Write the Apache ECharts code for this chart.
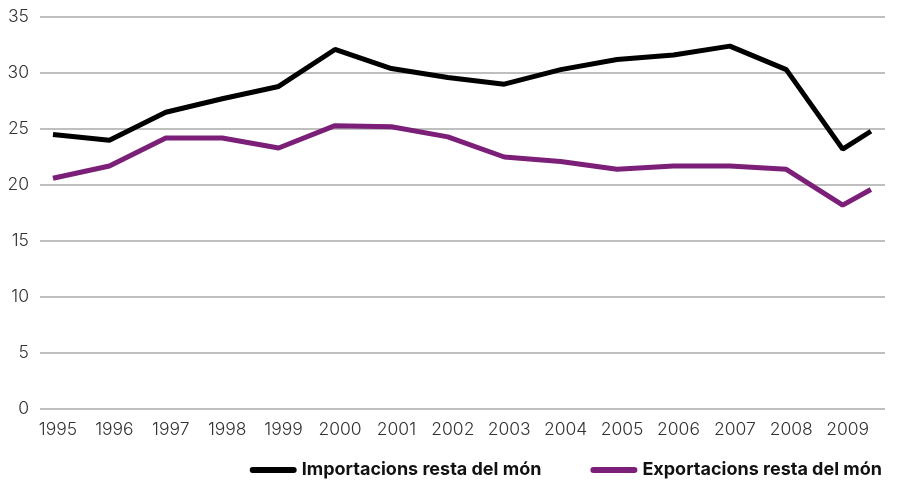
<!DOCTYPE html>
<html>
<head>
<meta charset="utf-8">
<script src="https://cdn.jsdelivr.net/npm/echarts@6/dist/echarts.min.js"></script>
<style>html,body{margin:0;padding:0;background:#fff}#c{width:900px;height:481px}</style>
</head>
<body>
<div id="c"></div>
<script>
const years = [1995,1996,1997,1998,1999,2000,2001,2002,2003,2004,2005,2006,2007,2008,2009,2009.5];
const yearLabels = [1995,1996,1997,1998,1999,2000,2001,2002,2003,2004,2005,2006,2007,2008,2009];
const importacions = [24.5,24.0,26.5,27.7,28.8,32.1,30.4,29.6,29.0,30.3,31.2,31.6,32.4,30.3,23.2,24.8];
const exportacions = [20.6,21.7,24.2,24.2,23.3,25.3,25.2,24.3,22.5,22.1,21.4,21.7,21.7,21.4,18.2,19.6];
const seriesNames = ['Importacions resta del món','Exportacions resta del món'];
const yTicks = [0,5,10,15,20,25,30,35];

const pair = (xs, ys) => xs.map((x,i)=>[x, ys[i]]);
const capsule = 'path://M3,0 L44,0 A3,3 0 0 1 44,6 L3,6 A3,3 0 0 1 3,0 Z';

const chart = echarts.init(document.getElementById('c'), null, {renderer:'canvas'});
chart.setOption({
  animation:false,
  backgroundColor:'#fff',
  grid:{left:40, right:15, top:17, bottom:72},
  xAxis:{
    type:'value', min:1994.77, max:2009.75,
    axisLine:{show:false}, axisTick:{show:false}, splitLine:{show:false},
    axisLabel:{
      customValues: yearLabels,
      formatter: v => String(Math.round(v)),
      color:'#333', fontSize:17.5, fontFamily:'Inter', fontWeight:300, margin:12,
      padding:[0,0,0,10]
    }
  },
  yAxis:{
    type:'value', min:0, max:35, interval:5,
    axisLine:{show:false}, axisTick:{show:false},
    axisLabel:{color:'#333', fontSize:17.5, fontFamily:'Inter', fontWeight:300, margin:11},
    splitLine:{lineStyle:{color:'#aaaaaa', width:1.5}}
  },
  legend:{
    right:13, top:456, itemWidth:47, itemHeight:6, itemGap:49,
    textStyle:{fontSize:18, fontWeight:'bold', color:'#111', fontFamily:'Inter'},
    data:[{name:seriesNames[0], icon:capsule},{name:seriesNames[1], icon:capsule}]
  },
  series:[
    {name:seriesNames[0], type:'line', data:pair(years, importacions), showSymbol:false, symbol:'none',
     lineStyle:{color:'#000', width:5}, itemStyle:{color:'#000'}},
    {name:seriesNames[1], type:'line', data:pair(years, exportacions), showSymbol:false, symbol:'none',
     lineStyle:{color:'#7b1f78', width:5}, itemStyle:{color:'#7b1f78'}}
  ]
});
</script>
</body>
</html>
